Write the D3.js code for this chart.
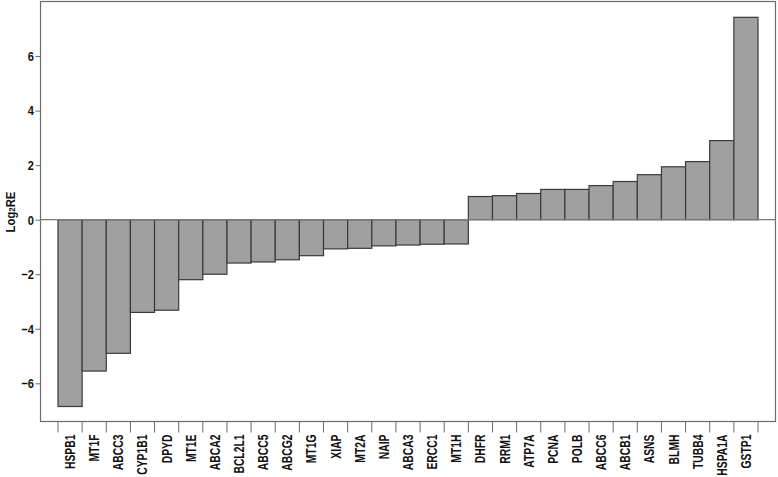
<!DOCTYPE html>
<html><head><meta charset="utf-8">
<script src="https://cdn.jsdelivr.net/npm/d3@7"></script>
<style>
body{margin:0;background:#fff;}
text{font-family:"Liberation Sans",Arial,sans-serif;font-weight:bold;}
</style></head>
<body><svg id="c" width="778" height="477"></svg>
<script>
const genes = ["HSPB1","MT1F","ABCC3","CYP1B1","DPYD","MT1E","ABCA2","BCL2L1","ABCC5","ABCG2","MT1G","XIAP","MT2A","NAIP","ABCA3","ERCC1","MT1H","DHFR","RRM1","ATP7A","PCNA","POLB","ABCC6","ABCB1","ASNS","BLMH","TUBB4","HSPA1A","GSTP1"];
const log2RE = [-6.85,-5.55,-4.9,-3.4,-3.32,-2.2,-2.0,-1.59,-1.55,-1.47,-1.32,-1.07,-1.05,-0.96,-0.93,-0.9,-0.89,0.85,0.88,0.96,1.11,1.11,1.25,1.4,1.65,1.94,2.13,2.9,7.42];
const yTicks = [-6,-4,-2,0,2,4,6];

const NARROW = 0.82;
const LABEL_NARROW = 0.74;
const svg = d3.select("#c");
const L = 40.5, R = 775.5, T = 1.5, B = 421.5;
const x = d3.scaleBand().domain(genes).range([58, 758]).paddingInner(0).paddingOuter(0);
const y = d3.scaleLinear().domain([-7.4, 8]).range([B, T]);

// frame
svg.append("rect").attr("x", L).attr("y", T).attr("width", R - L).attr("height", B - T)
  .attr("fill", "none").attr("stroke", "#6b6b6b").attr("stroke-width", 1.2);

// bars
svg.append("g").selectAll("rect").data(genes).join("rect")
  .attr("x", d => x(d))
  .attr("y", (d, i) => y(Math.max(0, log2RE[i])))
  .attr("width", x.bandwidth())
  .attr("height", (d, i) => Math.abs(y(log2RE[i]) - y(0)))
  .attr("fill", "#a0a0a0").attr("stroke", "#3a3a3a").attr("stroke-width", 1.2);

// zero line
svg.append("line").attr("x1", L).attr("x2", R).attr("y1", y(0)).attr("y2", y(0))
  .attr("stroke", "#7a7a7a").attr("stroke-width", 1.2);

// y axis
const ya = svg.append("g").attr("transform", `translate(${L},0)`)
  .call(d3.axisLeft(y).tickValues(yTicks).tickSize(5).tickPadding(3).tickFormat(d3.format("d")));
ya.select(".domain").remove();
ya.selectAll(".tick line").attr("stroke", "#6b6b6b");
ya.selectAll(".tick text").attr("font-size", 13.5).attr("fill", "#111")
  .attr("x", -6.5 / NARROW).attr("transform", `scale(${NARROW},1)`)
  .style("font-family", '"Liberation Sans",Arial,sans-serif');

// x axis: ticks at band edges
const edges = genes.map(g => x(g)).concat([x(genes[genes.length - 1]) + x.bandwidth()]);
svg.append("g").selectAll("line").data(edges).join("line")
  .attr("x1", d => d).attr("x2", d => d).attr("y1", B).attr("y2", B + 11)
  .attr("stroke", "#6b6b6b").attr("stroke-width", 1);
svg.append("g").selectAll("text").data(genes).join("text")
  .attr("transform", d => `translate(${x(d) + x.bandwidth() / 2 + 5},${B + 13}) rotate(-90) scale(${LABEL_NARROW},1)`)
  .attr("text-anchor", "end").attr("font-size", 14).attr("fill", "#111")
  .text(d => d);

// y title
const yt = svg.append("text").attr("transform", `translate(14.5,212) rotate(-90) scale(${NARROW + 0.05},1)`)
  .attr("text-anchor", "middle").attr("font-size", 13).attr("fill", "#111");
yt.append("tspan").text("Log");
yt.append("tspan").attr("font-size", 9).text("2");
yt.append("tspan").text("RE");
</script></body></html>
